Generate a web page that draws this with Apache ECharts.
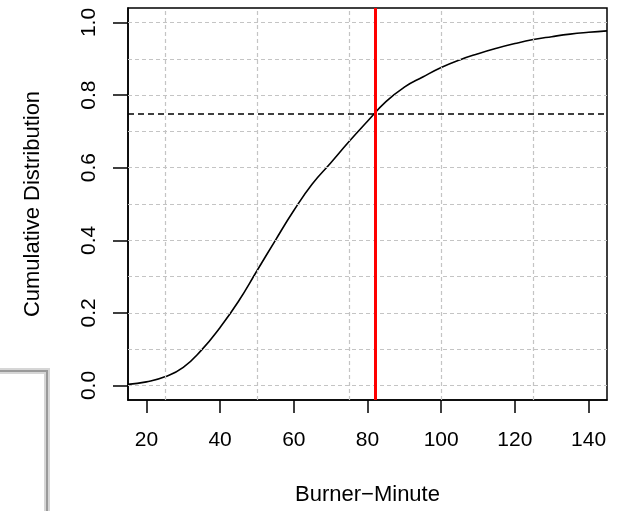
<!DOCTYPE html>
<html>
<head>
<meta charset="utf-8">
<script src="https://cdn.jsdelivr.net/npm/echarts@6/dist/echarts.min.js"></script>
<style>html,body{margin:0;padding:0;background:#fff}#c{width:626px;height:511px}</style>
</head>
<body>
<div id="c"></div>
<script>
// Data
const burnerMinutes = [15,20,25,30,35,40,45,50,55,60,65,70,75,80,85,90,95,100,105,110,115,120,125,130,135,140,145];
const cumulative = [0.003,0.010,0.024,0.050,0.098,0.160,0.232,0.316,0.400,0.482,0.555,0.613,0.672,0.728,0.782,0.822,0.850,0.876,0.897,0.914,0.929,0.942,0.953,0.961,0.968,0.973,0.977];
const xTicks = [20,40,60,80,100,120,140];
const yTicks = [0,0.2,0.4,0.6,0.8,1.0];
const xGrid = [25,50,75,100,125];
const yGrid = [0,0.1,0.2,0.3,0.4,0.5,0.6,0.7,0.8,0.9,1.0];
const refX = 82;
const refY = 0.75;
const xTitle = 'Burner\u2212Minute';
const yTitle = 'Cumulative Distribution';

const FONT = 'Liberation Sans, Arial, sans-serif';
const FS = 21;
const FT = 22;
const X_MIN = 15, X_MAX = 145, Y_MIN = -0.04, Y_MAX = 1.04;
const chart = echarts.init(document.getElementById('c'), null, {renderer:'canvas'});

const gridLines = [];
xGrid.forEach(v => gridLines.push({xAxis: v}));
yGrid.forEach(v => gridLines.push({yAxis: v}));

chart.setOption({
  animation: false,
  backgroundColor: '#fff',
  grid: {left: 128, right: 19, top: 8, bottom: 106, show: true, borderColor: '#000', borderWidth: 1.5, backgroundColor: 'transparent'},
  xAxis: {
    type: 'value', min: X_MIN, max: X_MAX,
    name: xTitle, nameLocation: 'middle', nameGap: 84,
    nameTextStyle: {fontFamily: FONT, fontSize: FT, color: '#000'},
    axisLine: {show: true, onZero: false, lineStyle: {color: '#000', width: 1.5}},
    axisTick: {show: true, customValues: xTicks, length: 13, lineStyle: {color: '#000', width: 1.5}},
    axisLabel: {show: true, customValues: xTicks, margin: 30, fontFamily: FONT, fontSize: FS, color: '#000'},
    splitLine: {show: false}
  },
  yAxis: {
    type: 'value', min: Y_MIN, max: Y_MAX,
    name: yTitle, nameLocation: 'middle', nameGap: 84, nameRotate: 90,
    nameTextStyle: {fontFamily: FONT, fontSize: FT, color: '#000'},
    axisLine: {show: true, onZero: false, lineStyle: {color: '#000', width: 1.5}},
    axisTick: {show: true, customValues: yTicks, length: 15, lineStyle: {color: '#000', width: 1.5}},
    axisLabel: {show: true, customValues: yTicks, rotate: 90, margin: 28, fontFamily: FONT, fontSize: FS, color: '#000',
      formatter: v => Number(v).toFixed(1)},
    splitLine: {show: false}
  },
  series: [
    {
      type: 'line', data: [], silent: true,
      markLine: {silent: true, symbol: ['none','none'], label: {show: false},
        lineStyle: {color: '#c4c4c4', width: 1.2, type: [4,3]},
        data: gridLines, animation: false}
    },
    {
      type: 'line', data: burnerMinutes.map((x,i) => [x, cumulative[i]]),
      showSymbol: false, smooth: true, silent: true,
      lineStyle: {color: '#000', width: 1.6}, z: 3
    },
    {
      type: 'line', data: [], silent: true, z: 4,
      markLine: {silent: true, symbol: ['none','none'], label: {show: false},
        data: [
          {yAxis: refY, lineStyle: {color: '#000', width: 1.5, type: [6,4]}},
          {xAxis: refX, lineStyle: {color: '#ff0000', width: 3, type: 'solid'}}
        ], animation: false}
    }
  ],
  graphic: [
    {type: 'polyline', silent: true, shape: {points: [[0,371],[47,371],[47,511]]}, style: {stroke: '#d6d6d6', lineWidth: 6, fill: null}},
    {type: 'polyline', silent: true, shape: {points: [[0,371],[47,371],[47,511]]}, style: {stroke: '#9a9a9a', lineWidth: 2, fill: null}}
  ]
});
</script>
</body>
</html>
